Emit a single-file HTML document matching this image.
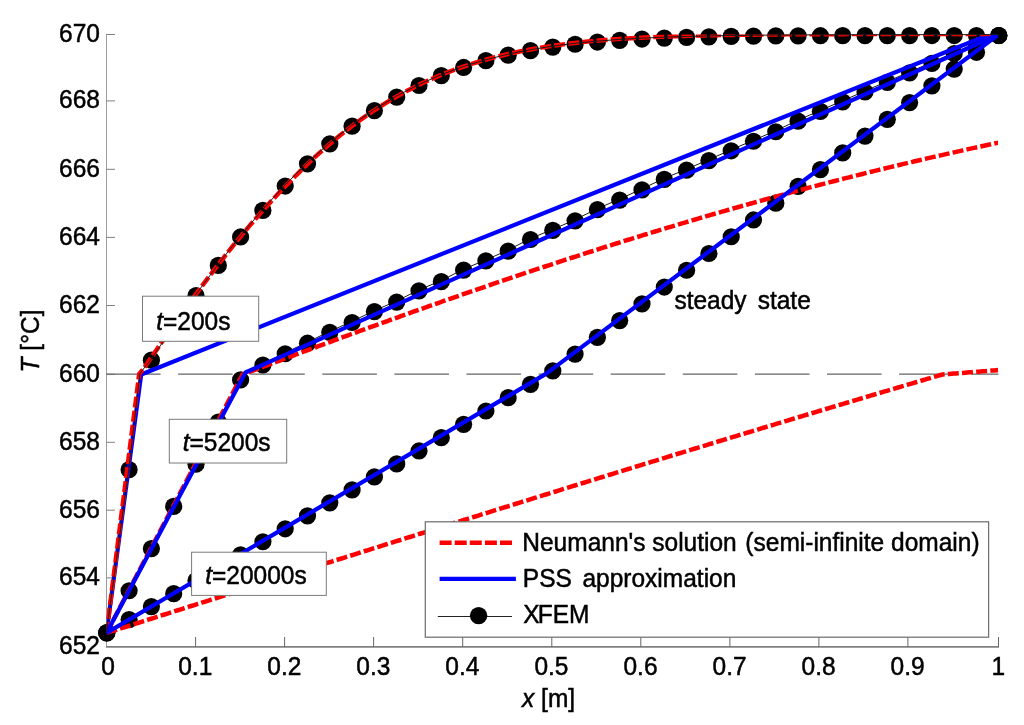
<!DOCTYPE html>
<html><head><meta charset="utf-8"><title>Temperature profiles</title>
<style>html,body{margin:0;padding:0;background:#fff;}svg{display:block;will-change:transform;}text{font-family:"Liberation Sans",sans-serif;font-size:25.8px;fill:#000;stroke:#000;stroke-width:0.5px;}</style>
</head><body>
<svg width="1024" height="725" viewBox="0 0 1024 725">
<rect width="1024" height="725" fill="#fff"/>
<defs><clipPath id="cp"><rect x="106.5" y="34.5" width="891.5" height="612"/></clipPath></defs>
<path d="M106.5 34V647" stroke="#9c9c9c" stroke-width="1" fill="none"/>
<path d="M106 646.8H999" stroke="#808080" stroke-width="1.7" fill="none"/>
<path d="M106.5 34.5H115" stroke="#808080" stroke-width="1" fill="none"/>
<text transform="translate(99.90 41.80) scale(0.95 1)" text-anchor="end">670</text>
<path d="M106.5 100.9H115" stroke="#808080" stroke-width="1" fill="none"/>
<text transform="translate(99.90 108.20) scale(0.95 1)" text-anchor="end">668</text>
<path d="M106.5 169.3H115" stroke="#808080" stroke-width="1" fill="none"/>
<text transform="translate(99.90 176.60) scale(0.95 1)" text-anchor="end">666</text>
<path d="M106.5 237.4H115" stroke="#808080" stroke-width="1" fill="none"/>
<text transform="translate(99.90 244.70) scale(0.95 1)" text-anchor="end">664</text>
<path d="M106.5 305.5H115" stroke="#808080" stroke-width="1" fill="none"/>
<text transform="translate(99.90 312.80) scale(0.95 1)" text-anchor="end">662</text>
<path d="M106.5 374.3H115" stroke="#808080" stroke-width="1" fill="none"/>
<text transform="translate(99.90 381.60) scale(0.95 1)" text-anchor="end">660</text>
<path d="M106.5 442.3H115" stroke="#808080" stroke-width="1" fill="none"/>
<text transform="translate(99.90 449.60) scale(0.95 1)" text-anchor="end">658</text>
<path d="M106.5 510.2H115" stroke="#808080" stroke-width="1" fill="none"/>
<text transform="translate(99.90 517.50) scale(0.95 1)" text-anchor="end">656</text>
<path d="M106.5 577.9H115" stroke="#808080" stroke-width="1" fill="none"/>
<text transform="translate(99.90 585.20) scale(0.95 1)" text-anchor="end">654</text>
<text transform="translate(99.90 653.80) scale(0.95 1)" text-anchor="end">652</text>
<text transform="translate(108.00 674.80) scale(0.95 1)" text-anchor="middle">0</text>
<path d="M195.6 637V647" stroke="#666" stroke-width="1" fill="none"/>
<text transform="translate(195.25 674.80) scale(0.95 1)" text-anchor="middle">0.1</text>
<path d="M284.6 637V647" stroke="#666" stroke-width="1" fill="none"/>
<text transform="translate(284.30 674.80) scale(0.95 1)" text-anchor="middle">0.2</text>
<path d="M373.6 637V647" stroke="#666" stroke-width="1" fill="none"/>
<text transform="translate(373.35 674.80) scale(0.95 1)" text-anchor="middle">0.3</text>
<path d="M462.7 637V647" stroke="#666" stroke-width="1" fill="none"/>
<text transform="translate(462.40 674.80) scale(0.95 1)" text-anchor="middle">0.4</text>
<path d="M551.8 637V647" stroke="#666" stroke-width="1" fill="none"/>
<text transform="translate(551.45 674.80) scale(0.95 1)" text-anchor="middle">0.5</text>
<path d="M640.8 637V647" stroke="#666" stroke-width="1" fill="none"/>
<text transform="translate(640.50 674.80) scale(0.95 1)" text-anchor="middle">0.6</text>
<path d="M729.9 637V647" stroke="#666" stroke-width="1" fill="none"/>
<text transform="translate(729.55 674.80) scale(0.95 1)" text-anchor="middle">0.7</text>
<path d="M818.9 637V647" stroke="#666" stroke-width="1" fill="none"/>
<text transform="translate(818.60 674.80) scale(0.95 1)" text-anchor="middle">0.8</text>
<path d="M907.9 637V647" stroke="#666" stroke-width="1" fill="none"/>
<text transform="translate(907.65 674.80) scale(0.95 1)" text-anchor="middle">0.9</text>
<path d="M998.5 637V647" stroke="#666" stroke-width="1" fill="none"/>
<text transform="translate(998.30 674.80) scale(0.95 1)" text-anchor="middle">1</text>
<text transform="translate(548.60 707.00) scale(0.95 1)" text-anchor="middle"><tspan font-style="italic">x</tspan> [m]</text>
<text transform="translate(39.30 341.00) rotate(-90) scale(0.95 1)" text-anchor="middle"><tspan font-style="italic">T</tspan> [°C]</text>
<path d="M106.5 374.15H998.5" stroke="#666" stroke-width="1.3" fill="none" stroke-dasharray="54.6 17.5" stroke-dashoffset="0.5"/>
<g fill="#000"><circle cx="106.80" cy="632.90" r="8.6"/><circle cx="129.10" cy="469.70" r="8.6"/><circle cx="151.40" cy="360.19" r="8.6"/><circle cx="173.70" cy="327.36" r="8.6"/><circle cx="196.00" cy="295.67" r="8.6"/><circle cx="218.30" cy="265.45" r="8.6"/><circle cx="240.60" cy="236.97" r="8.6"/><circle cx="262.90" cy="210.45" r="8.6"/><circle cx="285.20" cy="186.03" r="8.6"/><circle cx="307.50" cy="163.83" r="8.6"/><circle cx="329.80" cy="143.87" r="8.6"/><circle cx="352.10" cy="126.13" r="8.6"/><circle cx="374.40" cy="110.57" r="8.6"/><circle cx="396.70" cy="97.07" r="8.6"/><circle cx="419.00" cy="85.49" r="8.6"/><circle cx="441.30" cy="75.68" r="8.6"/><circle cx="463.60" cy="67.47" r="8.6"/><circle cx="485.90" cy="60.68" r="8.6"/><circle cx="508.20" cy="55.13" r="8.6"/><circle cx="530.50" cy="50.64" r="8.6"/><circle cx="552.80" cy="47.06" r="8.6"/><circle cx="575.10" cy="44.23" r="8.6"/><circle cx="597.40" cy="42.03" r="8.6"/><circle cx="619.70" cy="40.33" r="8.6"/><circle cx="642.00" cy="39.04" r="8.6"/><circle cx="664.30" cy="38.06" r="8.6"/><circle cx="686.60" cy="37.34" r="8.6"/><circle cx="708.90" cy="36.81" r="8.6"/><circle cx="731.20" cy="36.42" r="8.6"/><circle cx="753.50" cy="36.14" r="8.6"/><circle cx="775.80" cy="35.95" r="8.6"/><circle cx="798.10" cy="35.81" r="8.6"/><circle cx="820.40" cy="35.71" r="8.6"/><circle cx="842.70" cy="35.65" r="8.6"/><circle cx="865.00" cy="35.60" r="8.6"/><circle cx="887.30" cy="35.57" r="8.6"/><circle cx="909.60" cy="35.55" r="8.6"/><circle cx="931.90" cy="35.54" r="8.6"/><circle cx="954.20" cy="35.53" r="8.6"/><circle cx="976.50" cy="35.53" r="8.6"/><circle cx="998.80" cy="35.53" r="8.6"/></g>
<path d="M106.50 632.00 L128.80 589.84 L151.10 547.68 L173.40 505.52 L195.70 463.36 L218.00 421.20 L240.30 379.04 L245.50 372.60 L262.60 364.08 L284.90 352.86 L307.20 342.32 L329.50 331.44 L351.80 321.58 L374.10 310.70 L396.40 301.18 L418.70 289.96 L441.00 280.78 L463.30 269.22 L485.60 260.04 L507.90 250.18 L530.20 238.62 L552.50 229.44 L574.80 219.92 L597.10 208.70 L619.40 199.18 L641.70 188.98 L664.00 178.44 L686.30 169.26 L708.60 159.74 L730.90 149.88 L753.20 140.36 L775.50 130.84 L797.80 120.30 L820.10 110.44 L842.40 100.92 L864.70 91.06 L887.00 81.54 L909.30 72.02 L931.60 62.50 L953.90 52.64 L976.20 43.12 L998.50 34.62" stroke="#1a1a1a" stroke-width="1" fill="none"/>
<g fill="#000"><circle cx="106.80" cy="632.90" r="8.6"/><circle cx="129.10" cy="590.74" r="8.6"/><circle cx="151.40" cy="548.58" r="8.6"/><circle cx="173.70" cy="506.42" r="8.6"/><circle cx="196.00" cy="464.26" r="8.6"/><circle cx="218.30" cy="422.10" r="8.6"/><circle cx="240.60" cy="379.94" r="8.6"/><circle cx="262.90" cy="364.98" r="8.6"/><circle cx="285.20" cy="353.76" r="8.6"/><circle cx="307.50" cy="343.22" r="8.6"/><circle cx="329.80" cy="332.34" r="8.6"/><circle cx="352.10" cy="322.48" r="8.6"/><circle cx="374.40" cy="311.60" r="8.6"/><circle cx="396.70" cy="302.08" r="8.6"/><circle cx="419.00" cy="290.86" r="8.6"/><circle cx="441.30" cy="281.68" r="8.6"/><circle cx="463.60" cy="270.12" r="8.6"/><circle cx="485.90" cy="260.94" r="8.6"/><circle cx="508.20" cy="251.08" r="8.6"/><circle cx="530.50" cy="239.52" r="8.6"/><circle cx="552.80" cy="230.34" r="8.6"/><circle cx="575.10" cy="220.82" r="8.6"/><circle cx="597.40" cy="209.60" r="8.6"/><circle cx="619.70" cy="200.08" r="8.6"/><circle cx="642.00" cy="189.88" r="8.6"/><circle cx="664.30" cy="179.34" r="8.6"/><circle cx="686.60" cy="170.16" r="8.6"/><circle cx="708.90" cy="160.64" r="8.6"/><circle cx="731.20" cy="150.78" r="8.6"/><circle cx="753.50" cy="141.26" r="8.6"/><circle cx="775.80" cy="131.74" r="8.6"/><circle cx="798.10" cy="121.20" r="8.6"/><circle cx="820.40" cy="111.34" r="8.6"/><circle cx="842.70" cy="101.82" r="8.6"/><circle cx="865.00" cy="91.96" r="8.6"/><circle cx="887.30" cy="82.44" r="8.6"/><circle cx="909.60" cy="72.92" r="8.6"/><circle cx="931.90" cy="63.40" r="8.6"/><circle cx="954.20" cy="53.54" r="8.6"/><circle cx="976.50" cy="44.02" r="8.6"/><circle cx="998.80" cy="35.52" r="8.6"/></g>
<path d="M106.50 631.66 L128.80 618.69 L151.10 605.72 L173.40 592.75 L195.70 579.78 L218.00 566.81 L240.30 553.83 L262.60 540.86 L284.90 527.89 L307.20 514.92 L329.50 501.95 L351.80 488.98 L374.10 476.01 L396.40 463.04 L418.70 450.07 L441.00 436.77 L463.30 423.44 L485.60 410.12 L507.90 396.79 L530.20 383.46 L546.26 373.60 L552.50 370.00 L574.80 353.20 L597.10 336.43 L619.40 319.67 L641.70 302.90 L664.00 286.13 L686.30 269.36 L708.60 252.60 L730.90 235.83 L753.20 219.06 L775.50 202.29 L797.80 185.53 L820.10 168.76 L842.40 151.99 L864.70 135.22 L887.00 118.46 L909.30 101.69 L931.60 84.92 L953.90 68.15 L976.20 51.39 L998.50 34.62" stroke="#1a1a1a" stroke-width="1" fill="none"/>
<g fill="#000"><circle cx="106.80" cy="632.56" r="8.6"/><circle cx="129.10" cy="619.59" r="8.6"/><circle cx="151.40" cy="606.62" r="8.6"/><circle cx="173.70" cy="593.65" r="8.6"/><circle cx="196.00" cy="580.68" r="8.6"/><circle cx="218.30" cy="567.71" r="8.6"/><circle cx="240.60" cy="554.73" r="8.6"/><circle cx="262.90" cy="541.76" r="8.6"/><circle cx="285.20" cy="528.79" r="8.6"/><circle cx="307.50" cy="515.82" r="8.6"/><circle cx="329.80" cy="502.85" r="8.6"/><circle cx="352.10" cy="489.88" r="8.6"/><circle cx="374.40" cy="476.91" r="8.6"/><circle cx="396.70" cy="463.94" r="8.6"/><circle cx="419.00" cy="450.97" r="8.6"/><circle cx="441.30" cy="437.67" r="8.6"/><circle cx="463.60" cy="424.34" r="8.6"/><circle cx="485.90" cy="411.02" r="8.6"/><circle cx="508.20" cy="397.69" r="8.6"/><circle cx="530.50" cy="384.36" r="8.6"/><circle cx="552.80" cy="370.90" r="8.6"/><circle cx="575.10" cy="354.10" r="8.6"/><circle cx="597.40" cy="337.33" r="8.6"/><circle cx="619.70" cy="320.57" r="8.6"/><circle cx="642.00" cy="303.80" r="8.6"/><circle cx="664.30" cy="287.03" r="8.6"/><circle cx="686.60" cy="270.26" r="8.6"/><circle cx="708.90" cy="253.50" r="8.6"/><circle cx="731.20" cy="236.73" r="8.6"/><circle cx="753.50" cy="219.96" r="8.6"/><circle cx="775.80" cy="203.19" r="8.6"/><circle cx="798.10" cy="186.43" r="8.6"/><circle cx="820.40" cy="169.66" r="8.6"/><circle cx="842.70" cy="152.89" r="8.6"/><circle cx="865.00" cy="136.12" r="8.6"/><circle cx="887.30" cy="119.36" r="8.6"/><circle cx="909.60" cy="102.59" r="8.6"/><circle cx="931.90" cy="85.82" r="8.6"/><circle cx="954.20" cy="69.05" r="8.6"/><circle cx="976.50" cy="52.29" r="8.6"/><circle cx="998.80" cy="35.52" r="8.6"/></g>
<g clip-path="url(#cp)" fill="none">
<path d="M106.5 633 L141.2 374.5 L989.5 34.5 L998.5 34.5" stroke="#0000ff" stroke-width="4.2" stroke-linejoin="round"/>
<path d="M106.50 633.00 L139.20 374.00 L142.97 369.69 L145.25 366.34 L147.53 362.99 L149.81 359.64 L152.09 356.31 L154.37 352.98 L156.65 349.66 L158.93 346.36 L161.21 343.06 L163.49 339.77 L165.77 336.49 L168.05 333.22 L170.33 329.96 L172.61 326.71 L174.89 323.48 L177.17 320.26 L179.45 317.04 L181.73 313.85 L184.01 310.66 L186.29 307.49 L188.57 304.33 L190.85 301.18 L193.13 298.05 L195.41 294.93 L197.69 291.83 L199.97 288.75 L202.25 285.67 L204.53 282.62 L206.81 279.58 L209.09 276.55 L211.37 273.55 L213.65 270.56 L215.93 267.58 L218.21 264.63 L220.49 261.69 L222.77 258.77 L225.05 255.86 L227.33 252.98 L229.61 250.11 L231.89 247.26 L234.17 244.43 L236.45 241.62 L238.73 238.83 L241.01 236.06 L243.29 233.31 L245.57 230.58 L247.85 227.86 L250.13 225.17 L252.41 222.50 L254.69 219.85 L256.97 217.22 L259.25 214.61 L261.53 212.02 L263.81 209.46 L266.09 206.91 L268.37 204.38 L270.65 201.88 L272.93 199.40 L275.21 196.94 L277.49 194.50 L279.77 192.08 L282.05 189.69 L284.33 187.32 L286.61 184.97 L288.89 182.64 L291.16 180.33 L293.39 178.05 L295.62 175.79 L297.85 173.55 L300.08 171.33 L302.31 169.14 L304.54 166.97 L306.77 164.82 L309.00 162.69 L311.23 160.59 L313.46 158.51 L315.69 156.45 L317.92 154.41 L320.15 152.40 L322.38 150.41 L324.61 148.44 L326.84 146.50 L329.07 144.57 L331.30 142.67 L333.53 140.79 L335.76 138.94 L337.99 137.10 L340.22 135.29 L342.45 133.50 L344.68 131.73 L346.91 129.99 L349.14 128.27 L351.37 126.57 L353.60 124.89 L355.83 123.23 L358.06 121.59 L360.29 119.98 L362.52 118.39 L364.75 116.81 L366.98 115.26 L369.21 113.74 L371.44 112.23 L373.67 110.74 L375.90 109.27 L378.13 107.83 L380.36 106.40 L382.59 105.00 L384.82 103.62 L387.05 102.25 L389.28 100.91 L391.51 99.58 L393.74 98.28 L395.97 97.00 L398.20 95.73 L400.43 94.49 L402.66 93.26 L404.89 92.05 L407.12 90.86 L409.35 89.69 L411.58 88.54 L413.81 87.41 L416.04 86.30 L418.27 85.20 L420.50 84.12 L422.73 83.06 L424.96 82.02 L427.19 80.99 L429.42 79.98 L431.65 78.99 L433.88 78.02 L436.11 77.06 L438.34 76.12 L440.57 75.19 L442.80 74.29 L445.03 73.39 L447.26 72.52 L449.49 71.65 L451.72 70.81 L453.95 69.98 L456.18 69.16 L458.41 68.36 L460.64 67.58 L462.87 66.81 L465.10 66.05 L467.33 65.31 L469.56 64.58 L471.79 63.87 L474.02 63.17 L476.25 62.48 L478.48 61.80 L480.71 61.14 L482.94 60.50 L485.17 59.86 L487.40 59.24 L489.63 58.63 L491.86 58.03 L494.09 57.44 L496.32 56.87 L498.55 56.31 L500.78 55.76 L503.01 55.22 L505.24 54.69 L507.47 54.17 L509.70 53.67 L511.93 53.17 L514.16 52.69 L516.39 52.21 L518.62 51.75 L520.85 51.29 L523.08 50.85 L525.31 50.42 L527.54 49.99 L529.77 49.57 L532.00 49.17 L534.23 48.77 L536.46 48.38 L538.69 48.00 L540.92 47.63 L543.15 47.27 L545.38 46.91 L547.61 46.57 L549.84 46.23 L552.07 45.90 L554.30 45.57 L556.53 45.26 L558.76 44.95 L560.99 44.65 L563.22 44.36 L565.45 44.07 L567.68 43.79 L569.91 43.52 L572.14 43.25 L574.37 42.99 L576.60 42.74 L578.83 42.49 L581.06 42.25 L583.29 42.02 L585.52 41.79 L587.75 41.56 L589.98 41.35 L592.21 41.13 L594.44 40.93 L596.67 40.72 L598.90 40.53 L601.13 40.34 L603.36 40.15 L605.59 39.97 L607.82 39.79 L610.05 39.62 L612.28 39.45 L614.51 39.29 L616.74 39.13 L618.97 38.97 L621.20 38.82 L623.43 38.68 L625.66 38.54 L627.89 38.40 L630.12 38.26 L632.35 38.13 L634.58 38.00 L636.81 37.88 L639.04 37.76 L641.27 37.64 L643.50 37.53 L645.73 37.42 L647.96 37.31 L650.19 37.20 L652.42 37.10 L654.65 37.00 L656.88 36.91 L659.11 36.81 L661.34 36.72 L663.57 36.64 L665.80 36.55 L668.03 36.47 L670.26 36.39 L672.49 36.31 L674.72 36.23 L676.95 36.16 L679.18 36.09 L681.41 36.02 L683.64 35.95 L685.87 35.89 L688.10 35.82 L690.33 35.76 L692.56 35.70 L694.79 35.65 L697.02 35.59 L699.25 35.54 L701.48 35.48 L703.71 35.43 L705.94 35.38 L708.17 35.34 L710.40 35.29 L712.63 35.25 L714.86 35.20 L717.09 35.16 L719.32 35.12 L721.55 35.08 L723.78 35.04 L726.01 35.01 L728.24 34.97 L730.47 34.94 L732.70 34.90 L734.93 34.87 L737.16 34.84 L739.39 34.81 L741.62 34.78 L743.85 34.75 L746.08 34.73 L748.31 34.70 L750.54 34.67 L752.77 34.65 L755.00 34.63 L757.23 34.60 L759.46 34.58 L761.69 34.56 L763.92 34.54 L766.15 34.52 L768.38 34.50 L770.61 34.48 L772.84 34.46 L775.07 34.44 L777.30 34.43 L779.53 34.41 L781.76 34.40 L783.99 34.38 L786.22 34.37 L788.45 34.35 L790.68 34.34 L792.91 34.33 L795.14 34.31 L797.37 34.30 L799.60 34.29 L801.83 34.28 L804.06 34.27 L806.29 34.26 L808.52 34.25 L810.75 34.24 L812.98 34.23 L815.21 34.22 L817.44 34.21 L819.67 34.20 L821.90 34.19 L824.13 34.19 L826.36 34.18 L828.59 34.17 L830.82 34.16 L833.05 34.16 L835.28 34.15 L837.51 34.15 L839.74 34.14 L841.97 34.13 L844.20 34.13 L846.43 34.12 L848.66 34.12 L850.89 34.11 L853.12 34.11 L855.35 34.10 L857.58 34.10 L859.81 34.10 L862.04 34.09 L864.27 34.09 L866.50 34.08 L868.73 34.08 L870.96 34.08 L873.19 34.07 L875.42 34.07 L877.65 34.07 L879.88 34.06 L882.11 34.06 L884.34 34.06 L886.57 34.06 L888.80 34.05 L891.03 34.05 L893.26 34.05 L895.49 34.05 L897.72 34.05 L899.95 34.04 L902.18 34.04 L904.41 34.04 L906.64 34.04 L908.87 34.04 L911.10 34.03 L913.33 34.03 L915.56 34.03 L917.79 34.03 L920.02 34.03 L922.25 34.03 L924.48 34.03 L926.71 34.03 L928.94 34.02 L931.17 34.02 L933.40 34.02 L935.63 34.02 L937.86 34.02 L940.09 34.02 L942.32 34.02 L944.55 34.02 L946.78 34.02 L949.01 34.02 L951.24 34.02 L953.47 34.01 L955.70 34.01 L957.93 34.01 L960.16 34.01 L962.39 34.01 L964.62 34.01 L966.85 34.01 L969.08 34.01 L971.31 34.01 L973.54 34.01 L975.77 34.01 L978.00 34.01 L980.23 34.01 L982.46 34.01 L984.69 34.01 L986.92 34.01 L989.15 34.01 L991.38 34.01 L993.61 34.01 L995.84 34.01 L998.07 34.01 L1000.30 34.01" stroke="#ff0000" stroke-width="4.5" stroke-dasharray="11 3.2"/>
<path d="M106.50 632.90 L108.73 628.66 L110.96 624.43 L113.19 620.19 L115.42 615.95 L117.65 611.72 L119.88 607.48 L122.11 603.24 L124.34 599.00 L126.57 594.77 L128.80 590.53 L131.03 586.29 L133.26 582.06 L135.49 577.82 L137.72 573.58 L139.95 569.35 L142.18 565.11 L144.41 560.87 L146.64 556.63 L148.87 552.40 L151.10 548.16 L153.33 543.92 L155.56 539.69 L157.79 535.45 L160.02 531.21 L162.25 526.98 L164.48 522.74 L166.71 518.50 L168.94 514.26 L171.17 510.03 L173.40 505.79 L175.63 501.55 L177.86 497.32 L180.09 493.08 L182.32 488.84 L184.55 484.61 L186.78 480.37 L189.01 476.13 L191.24 471.89 L193.47 467.66 L195.70 463.42 L197.93 459.18 L200.16 454.95 L202.39 450.71 L204.62 446.47 L206.85 442.24 L209.08 438.00 L211.31 433.76 L213.54 429.52 L215.77 425.29 L218.00 421.05 L220.23 416.81 L222.46 412.58 L224.69 408.34 L226.92 404.10 L229.15 399.87 L231.38 395.63 L233.61 391.39 L235.84 387.15 L238.07 382.92 L240.30 378.68 L242.53 374.49 L244.76 373.65 L246.99 372.81 L249.22 371.97 L251.45 371.14 L253.68 370.30 L255.91 369.46 L258.14 368.62 L260.37 367.79 L262.60 366.95 L264.83 366.12 L267.06 365.28 L269.29 364.45 L271.52 363.62 L273.75 362.78 L275.98 361.95 L278.21 361.12 L280.44 360.28 L282.67 359.45 L284.90 358.62 L287.13 357.79 L289.36 356.96 L291.59 356.13 L293.82 355.30 L296.05 354.47 L298.28 353.65 L300.51 352.82 L302.74 351.99 L304.97 351.17 L307.20 350.34 L309.43 349.51 L311.66 348.69 L313.89 347.87 L316.12 347.04 L318.35 346.22 L320.58 345.40 L322.81 344.58 L325.04 343.75 L327.27 342.93 L329.50 342.11 L331.73 341.29 L333.96 340.47 L336.19 339.66 L338.42 338.84 L340.65 338.02 L342.88 337.21 L345.11 336.39 L347.34 335.57 L349.57 334.76 L351.80 333.95 L354.03 333.13 L356.26 332.32 L358.49 331.51 L360.72 330.70 L362.95 329.89 L365.18 329.08 L367.41 328.27 L369.64 327.46 L371.87 326.65 L374.10 325.85 L376.33 325.04 L378.56 324.24 L380.79 323.43 L383.02 322.63 L385.25 321.82 L387.48 321.02 L389.71 320.22 L391.94 319.42 L394.17 318.62 L396.40 317.82 L398.63 317.02 L400.86 316.22 L403.09 315.42 L405.32 314.63 L407.55 313.83 L409.78 313.04 L412.01 312.24 L414.24 311.45 L416.47 310.66 L418.70 309.87 L420.93 309.08 L423.16 308.29 L425.39 307.50 L427.62 306.71 L429.85 305.92 L432.08 305.14 L434.31 304.35 L436.54 303.57 L438.77 302.78 L441.00 302.00 L443.23 301.22 L445.46 300.43 L447.69 299.65 L449.92 298.87 L452.15 298.10 L454.38 297.32 L456.61 296.54 L458.84 295.77 L461.07 294.99 L463.30 294.22 L465.53 293.44 L467.76 292.67 L469.99 291.90 L472.22 291.13 L474.45 290.36 L476.68 289.59 L478.91 288.82 L481.14 288.06 L483.37 287.29 L485.60 286.53 L487.83 285.76 L490.06 285.00 L492.29 284.24 L494.52 283.48 L496.75 282.72 L498.98 281.96 L501.21 281.20 L503.44 280.44 L505.67 279.69 L507.90 278.93 L510.13 278.18 L512.36 277.42 L514.59 276.67 L516.82 275.92 L519.05 275.17 L521.28 274.42 L523.51 273.68 L525.74 272.93 L527.97 272.18 L530.20 271.44 L532.43 270.69 L534.66 269.95 L536.89 269.21 L539.12 268.47 L541.35 267.73 L543.58 266.99 L545.81 266.25 L548.04 265.52 L550.27 264.78 L552.50 264.05 L554.73 263.32 L556.96 262.58 L559.19 261.85 L561.42 261.12 L563.65 260.40 L565.88 259.67 L568.11 258.94 L570.34 258.22 L572.57 257.49 L574.80 256.77 L577.03 256.05 L579.26 255.33 L581.49 254.61 L583.72 253.89 L585.95 253.17 L588.18 252.45 L590.41 251.74 L592.64 251.03 L594.87 250.31 L597.10 249.60 L599.33 248.89 L601.56 248.18 L603.79 247.47 L606.02 246.77 L608.25 246.06 L610.48 245.36 L612.71 244.65 L614.94 243.95 L617.17 243.25 L619.40 242.55 L621.63 241.85 L623.86 241.15 L626.09 240.46 L628.32 239.76 L630.55 239.07 L632.78 238.38 L635.01 237.68 L637.24 236.99 L639.47 236.30 L641.70 235.62 L643.93 234.93 L646.16 234.25 L648.39 233.56 L650.62 232.88 L652.85 232.20 L655.08 231.52 L657.31 230.84 L659.54 230.16 L661.77 229.48 L664.00 228.81 L666.23 228.13 L668.46 227.46 L670.69 226.79 L672.92 226.12 L675.15 225.45 L677.38 224.78 L679.61 224.11 L681.84 223.45 L684.07 222.78 L686.30 222.12 L688.53 221.46 L690.76 220.80 L692.99 220.14 L695.22 219.48 L697.45 218.83 L699.68 218.17 L701.91 217.52 L704.14 216.86 L706.37 216.21 L708.60 215.56 L710.83 214.91 L713.06 214.27 L715.29 213.62 L717.52 212.98 L719.75 212.33 L721.98 211.69 L724.21 211.05 L726.44 210.41 L728.67 209.77 L730.90 209.14 L733.13 208.50 L735.36 207.87 L737.59 207.23 L739.82 206.60 L742.05 205.97 L744.28 205.34 L746.51 204.71 L748.74 204.09 L750.97 203.46 L753.20 202.84 L755.43 202.22 L757.66 201.60 L759.89 200.98 L762.12 200.36 L764.35 199.74 L766.58 199.13 L768.81 198.51 L771.04 197.90 L773.27 197.29 L775.50 196.68 L777.73 196.07 L779.96 195.46 L782.19 194.86 L784.42 194.25 L786.65 193.65 L788.88 193.05 L791.11 192.45 L793.34 191.85 L795.57 191.25 L797.80 190.65 L800.03 190.06 L802.26 189.46 L804.49 188.87 L806.72 188.28 L808.95 187.69 L811.18 187.10 L813.41 186.51 L815.64 185.93 L817.87 185.34 L820.10 184.76 L822.33 184.18 L824.56 183.60 L826.79 183.02 L829.02 182.44 L831.25 181.87 L833.48 181.29 L835.71 180.72 L837.94 180.15 L840.17 179.58 L842.40 179.01 L844.63 178.44 L846.86 177.88 L849.09 177.31 L851.32 176.75 L853.55 176.19 L855.78 175.63 L858.01 175.07 L860.24 174.51 L862.47 173.95 L864.70 173.40 L866.93 172.84 L869.16 172.29 L871.39 171.74 L873.62 171.19 L875.85 170.64 L878.08 170.10 L880.31 169.55 L882.54 169.01 L884.77 168.47 L887.00 167.92 L889.23 167.38 L891.46 166.85 L893.69 166.31 L895.92 165.77 L898.15 165.24 L900.38 164.71 L902.61 164.18 L904.84 163.65 L907.07 163.12 L909.30 162.59 L911.53 162.07 L913.76 161.54 L915.99 161.02 L918.22 160.50 L920.45 159.98 L922.68 159.46 L924.91 158.94 L927.14 158.43 L929.37 157.91 L931.60 157.40 L933.83 156.89 L936.06 156.38 L938.29 155.87 L940.52 155.36 L942.75 154.86 L944.98 154.35 L947.21 153.85 L949.44 153.35 L951.67 152.85 L953.90 152.35 L956.13 151.85 L958.36 151.35 L960.59 150.86 L962.82 150.37 L965.05 149.87 L967.28 149.38 L969.51 148.89 L971.74 148.41 L973.97 147.92 L976.20 147.44 L978.43 146.95 L980.66 146.47 L982.89 145.99 L985.12 145.51 L987.35 145.03 L989.58 144.56 L991.81 144.08 L994.04 143.61 L996.27 143.13 L998.50 142.66" stroke="#ff0000" stroke-width="4.5" stroke-dasharray="11 3.2"/>
<path d="M106.5 633 L245.5 372.5 L998.5 34.5" stroke="#0000ff" stroke-width="4.2" stroke-linejoin="round"/>
<path d="M106.50 632.90 L108.73 632.19 L110.96 631.48 L113.19 630.78 L115.42 630.07 L117.65 629.36 L119.88 628.65 L122.11 627.95 L124.34 627.24 L126.57 626.53 L128.80 625.82 L131.03 625.12 L133.26 624.41 L135.49 623.70 L137.72 622.99 L139.95 622.29 L142.18 621.58 L144.41 620.87 L146.64 620.16 L148.87 619.46 L151.10 618.75 L153.33 618.04 L155.56 617.33 L157.79 616.63 L160.02 615.92 L162.25 615.21 L164.48 614.50 L166.71 613.80 L168.94 613.09 L171.17 612.38 L173.40 611.67 L175.63 610.97 L177.86 610.26 L180.09 609.55 L182.32 608.85 L184.55 608.14 L186.78 607.43 L189.01 606.72 L191.24 606.02 L193.47 605.31 L195.70 604.60 L197.93 603.90 L200.16 603.19 L202.39 602.48 L204.62 601.78 L206.85 601.07 L209.08 600.36 L211.31 599.65 L213.54 598.95 L215.77 598.24 L218.00 597.53 L220.23 596.83 L222.46 596.12 L224.69 595.41 L226.92 594.71 L229.15 594.00 L231.38 593.30 L233.61 592.59 L235.84 591.88 L238.07 591.18 L240.30 590.47 L242.53 589.76 L244.76 589.06 L246.99 588.35 L249.22 587.65 L251.45 586.94 L253.68 586.23 L255.91 585.53 L258.14 584.82 L260.37 584.12 L262.60 583.41 L264.83 582.71 L267.06 582.00 L269.29 581.29 L271.52 580.59 L273.75 579.88 L275.98 579.18 L278.21 578.47 L280.44 577.77 L282.67 577.06 L284.90 576.36 L287.13 575.65 L289.36 574.95 L291.59 574.24 L293.82 573.54 L296.05 572.83 L298.28 572.13 L300.51 571.42 L302.74 570.72 L304.97 570.01 L307.20 569.31 L309.43 568.60 L311.66 567.90 L313.89 567.20 L316.12 566.49 L318.35 565.79 L320.58 565.08 L322.81 564.38 L325.04 563.68 L327.27 562.97 L329.50 562.27 L331.73 561.56 L333.96 560.86 L336.19 560.16 L338.42 559.45 L340.65 558.75 L342.88 558.05 L345.11 557.34 L347.34 556.64 L349.57 555.94 L351.80 555.24 L354.03 554.53 L356.26 553.83 L358.49 553.13 L360.72 552.43 L362.95 551.72 L365.18 551.02 L367.41 550.32 L369.64 549.62 L371.87 548.91 L374.10 548.21 L376.33 547.51 L378.56 546.81 L380.79 546.11 L383.02 545.41 L385.25 544.70 L387.48 544.00 L389.71 543.30 L391.94 542.60 L394.17 541.90 L396.40 541.20 L398.63 540.50 L400.86 539.80 L403.09 539.10 L405.32 538.39 L407.55 537.69 L409.78 536.99 L412.01 536.29 L414.24 535.59 L416.47 534.89 L418.70 534.19 L420.93 533.49 L423.16 532.79 L425.39 532.09 L427.62 531.39 L429.85 530.70 L432.08 530.00 L434.31 529.30 L436.54 528.60 L438.77 527.90 L441.00 527.20 L443.23 526.50 L445.46 525.80 L447.69 525.10 L449.92 524.41 L452.15 523.71 L454.38 523.01 L456.61 522.31 L458.84 521.61 L461.07 520.92 L463.30 520.22 L465.53 519.52 L467.76 518.82 L469.99 518.13 L472.22 517.43 L474.45 516.73 L476.68 516.04 L478.91 515.34 L481.14 514.64 L483.37 513.95 L485.60 513.25 L487.83 512.55 L490.06 511.86 L492.29 511.16 L494.52 510.47 L496.75 509.77 L498.98 509.08 L501.21 508.38 L503.44 507.68 L505.67 506.99 L507.90 506.29 L510.13 505.60 L512.36 504.91 L514.59 504.21 L516.82 503.52 L519.05 502.82 L521.28 502.13 L523.51 501.43 L525.74 500.74 L527.97 500.05 L530.20 499.35 L532.43 498.66 L534.66 497.97 L536.89 497.27 L539.12 496.58 L541.35 495.89 L543.58 495.20 L545.81 494.50 L548.04 493.81 L550.27 493.12 L552.50 492.43 L554.73 491.73 L556.96 491.04 L559.19 490.35 L561.42 489.66 L563.65 488.97 L565.88 488.28 L568.11 487.59 L570.34 486.90 L572.57 486.21 L574.80 485.52 L577.03 484.83 L579.26 484.14 L581.49 483.45 L583.72 482.76 L585.95 482.07 L588.18 481.38 L590.41 480.69 L592.64 480.00 L594.87 479.31 L597.10 478.62 L599.33 477.93 L601.56 477.24 L603.79 476.56 L606.02 475.87 L608.25 475.18 L610.48 474.49 L612.71 473.80 L614.94 473.12 L617.17 472.43 L619.40 471.74 L621.63 471.06 L623.86 470.37 L626.09 469.68 L628.32 469.00 L630.55 468.31 L632.78 467.62 L635.01 466.94 L637.24 466.25 L639.47 465.57 L641.70 464.88 L643.93 464.20 L646.16 463.51 L648.39 462.83 L650.62 462.14 L652.85 461.46 L655.08 460.78 L657.31 460.09 L659.54 459.41 L661.77 458.72 L664.00 458.04 L666.23 457.36 L668.46 456.68 L670.69 455.99 L672.92 455.31 L675.15 454.63 L677.38 453.95 L679.61 453.26 L681.84 452.58 L684.07 451.90 L686.30 451.22 L688.53 450.54 L690.76 449.86 L692.99 449.18 L695.22 448.50 L697.45 447.82 L699.68 447.14 L701.91 446.46 L704.14 445.78 L706.37 445.10 L708.60 444.42 L710.83 443.74 L713.06 443.06 L715.29 442.38 L717.52 441.70 L719.75 441.02 L721.98 440.35 L724.21 439.67 L726.44 438.99 L728.67 438.31 L730.90 437.64 L733.13 436.96 L735.36 436.28 L737.59 435.61 L739.82 434.93 L742.05 434.25 L744.28 433.58 L746.51 432.90 L748.74 432.23 L750.97 431.55 L753.20 430.88 L755.43 430.20 L757.66 429.53 L759.89 428.85 L762.12 428.18 L764.35 427.50 L766.58 426.83 L768.81 426.16 L771.04 425.48 L773.27 424.81 L775.50 424.14 L777.73 423.46 L779.96 422.79 L782.19 422.12 L784.42 421.45 L786.65 420.78 L788.88 420.10 L791.11 419.43 L793.34 418.76 L795.57 418.09 L797.80 417.42 L800.03 416.75 L802.26 416.08 L804.49 415.41 L806.72 414.74 L808.95 414.07 L811.18 413.40 L813.41 412.73 L815.64 412.07 L817.87 411.40 L820.10 410.73 L822.33 410.06 L824.56 409.39 L826.79 408.73 L829.02 408.06 L831.25 407.39 L833.48 406.73 L835.71 406.06 L837.94 405.39 L840.17 404.73 L842.40 404.06 L844.63 403.40 L846.86 402.73 L849.09 402.07 L851.32 401.40 L853.55 400.74 L855.78 400.07 L858.01 399.41 L860.24 398.74 L862.47 398.08 L864.70 397.42 L866.93 396.75 L869.16 396.09 L871.39 395.43 L873.62 394.77 L875.85 394.11 L878.08 393.44 L880.31 392.78 L882.54 392.12 L884.77 391.46 L887.00 390.80 L889.23 390.14 L891.46 389.48 L893.69 388.82 L895.92 388.16 L898.15 387.50 L900.38 386.84 L902.61 386.18 L904.84 385.52 L907.07 384.87 L909.30 384.21 L911.53 383.55 L913.76 382.89 L915.99 382.23 L918.22 381.58 L920.45 380.92 L922.68 380.26 L924.91 379.61 L927.14 378.95 L929.37 378.30 L931.60 377.64 L933.83 376.99 L936.06 376.33 L938.29 375.68 L940.52 375.02 L942.75 374.46 L944.98 374.29 L947.21 374.11 L949.44 373.94 L951.67 373.76 L953.90 373.59 L956.13 373.41 L958.36 373.24 L960.59 373.06 L962.82 372.89 L965.05 372.71 L967.28 372.54 L969.51 372.36 L971.74 372.18 L973.97 372.01 L976.20 371.83 L978.43 371.66 L980.66 371.48 L982.89 371.31 L985.12 371.13 L987.35 370.96 L989.58 370.78 L991.81 370.61 L994.04 370.43 L996.27 370.26 L998.50 370.08" stroke="#ff0000" stroke-width="4.5" stroke-dasharray="11 3.2"/>
<path d="M106.5 633 L546.3 373.6 L998.5 34.5" stroke="#0000ff" stroke-width="4.2" stroke-linejoin="round"/>
</g>
<path d="M106.50 632.00 L128.80 468.80 L140.00 373.30 L151.10 359.29 L173.40 326.46 L195.70 294.77 L218.00 264.55 L240.30 236.07 L262.60 209.55 L284.90 185.13 L307.20 162.93 L329.50 142.97 L351.80 125.23 L374.10 109.67 L396.40 96.17 L418.70 84.59 L441.00 74.78 L463.30 66.57 L485.60 59.78 L507.90 54.23 L530.20 49.74 L552.50 46.16 L574.80 43.33 L597.10 41.13 L619.40 39.43 L641.70 38.14 L664.00 37.16 L686.30 36.44 L708.60 35.91 L730.90 35.52 L753.20 35.24 L775.50 35.05 L797.80 34.91 L820.10 34.81 L842.40 34.75 L864.70 34.70 L887.00 34.67 L909.30 34.65 L931.60 34.64 L953.90 34.63 L976.20 34.63 L998.50 34.63" stroke="#1a1a1a" stroke-width="1" fill="none"/>
<rect x="142.5" y="296.2" width="116.2" height="45.1" fill="#fff" stroke="#7a7a7a" stroke-width="1"/>
<text transform="translate(156.20 329.80) scale(0.95 1)" text-anchor="start"><tspan font-style="italic">t</tspan>=200s</text>
<rect x="169.3" y="419.3" width="117.4" height="43.7" fill="#fff" stroke="#7a7a7a" stroke-width="1"/>
<text transform="translate(182.70 450.60) scale(0.95 1)" text-anchor="start"><tspan font-style="italic">t</tspan>=5200s</text>
<rect x="191.6" y="552.2" width="134.7" height="43.2" fill="#fff" stroke="#7a7a7a" stroke-width="1"/>
<text transform="translate(205.20 583.60) scale(0.95 1)" text-anchor="start"><tspan font-style="italic">t</tspan>=20000s</text>
<text transform="translate(674.40 309.20) scale(0.95 1)" text-anchor="start">steady<tspan dx="4.5"> state</tspan></text>
<rect x="425.3" y="521.8" width="563.3" height="115.4" fill="#fff" stroke="#707070" stroke-width="1.25"/>
<path d="M439.6 542.8H512" stroke="#ff0000" stroke-width="4.5" stroke-width="4.6" fill="none" stroke-dasharray="12 3.1"/>
<path d="M439.6 578.9H515.9" stroke="#0000ff" stroke-width="4.2" stroke-width="4.4" fill="none"/>
<path d="M437.8 616.5H512" stroke="#222" stroke-width="1" fill="none"/>
<circle cx="478.6" cy="615.6" r="8.7" fill="#000"/>
<text transform="translate(522.30 551.00) scale(0.95 1)" text-anchor="start">Neumann's solution<tspan dx='1.9'> (semi-infinite domain)</tspan></text>
<text transform="translate(522.80 586.90) scale(0.95 1)" text-anchor="start">PSS<tspan dx="4"> approximation</tspan></text>
<text transform="translate(523.30 623.30) scale(0.95 1)" text-anchor="start"><tspan letter-spacing="-2">X</tspan>FEM</text>
</svg></body></html>
